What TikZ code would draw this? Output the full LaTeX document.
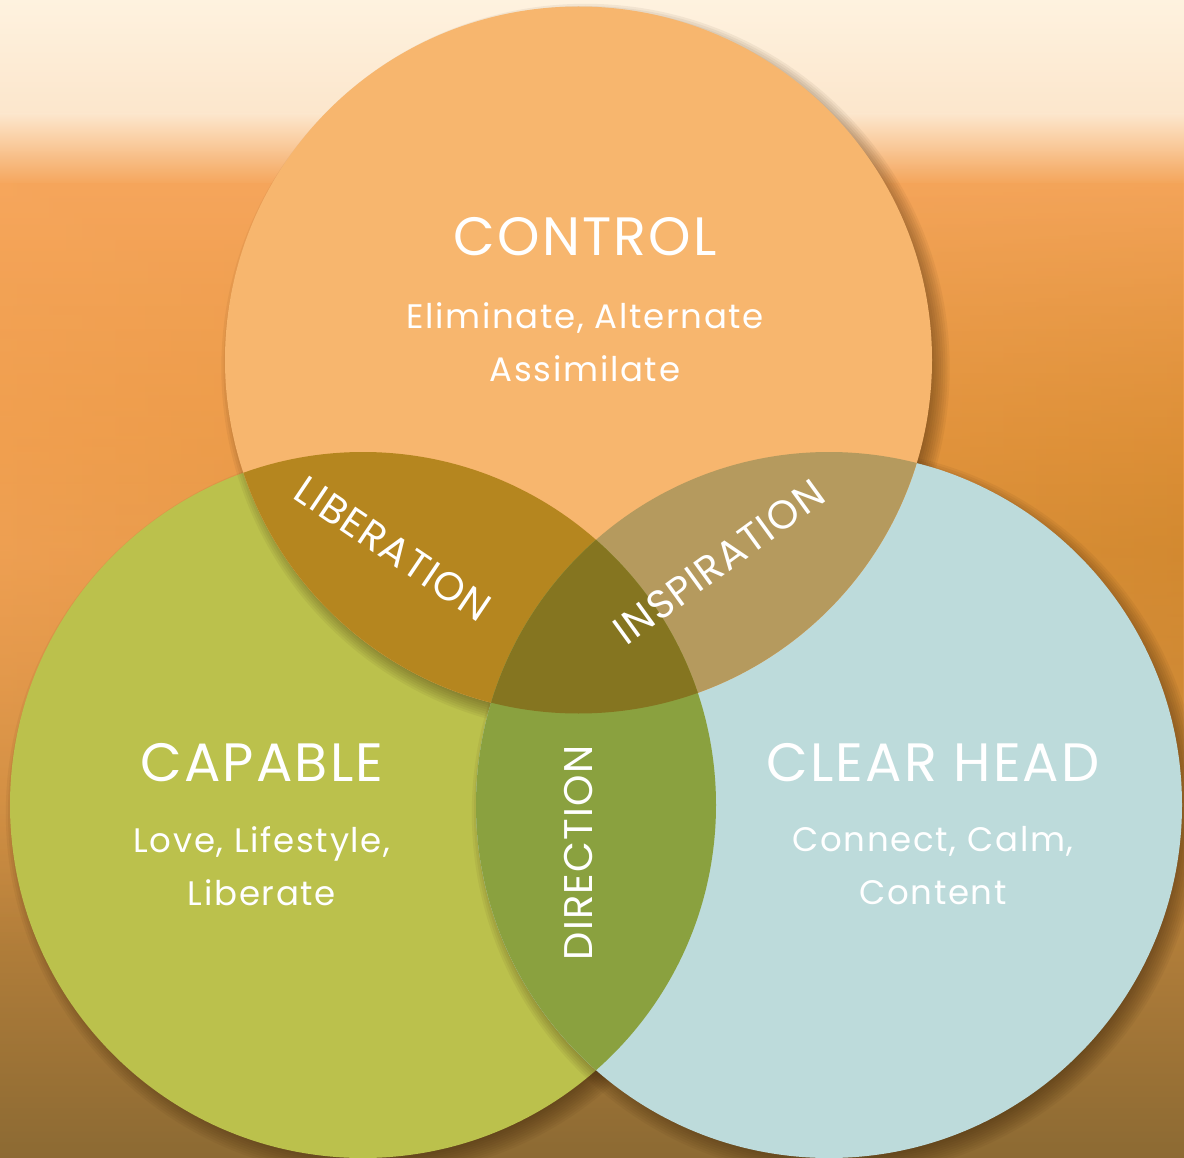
\documentclass[tikz,border=0pt]{standalone}
\usepackage{fontspec}
\setmainfont{Poppins}
\newfontfamily\headfont[LetterSpace=4]{Poppins}
\newfontfamily\subfont[LetterSpace=5]{Poppins}
\newfontfamily\lensfont[LetterSpace=3]{Poppins}
\usetikzlibrary{fadings}
\definecolor{bg0}{HTML}{FEF2DF}
\definecolor{bg1}{HTML}{FCE6CC}
\definecolor{bg2}{HTML}{F6A65C}
\definecolor{bg3}{HTML}{EC9A45}
\definecolor{bg4}{HTML}{C98A3E}
\definecolor{bg5}{HTML}{8C6A33}
\definecolor{bgR}{HTML}{C98224}
\definecolor{shadowc}{HTML}{3A2208}
\definecolor{orangeC}{HTML}{F7B66E}
\definecolor{greenC}{HTML}{BBC14C}
\definecolor{blueC}{HTML}{BDDBDB}
\definecolor{lensTL}{HTML}{B5861F}
\definecolor{lensTR}{HTML}{B59A5E}
\definecolor{lensLR}{HTML}{8AA13F}
\definecolor{lensAll}{HTML}{857520}
\tikzfading[name=midband, top color=transparent!100, bottom color=transparent!100, middle color=transparent!0]
\tikzset{
  heading/.style={text=white, font=\headfont\fontsize{54}{60}\selectfont, inner sep=0pt},
  subtext/.style={text=white, font=\subfont\fontsize{34}{53}\selectfont, align=center, inner sep=0pt},
  lenslabel/.style={text=white, font=\lensfont\fontsize{40}{44}\selectfont, inner sep=0pt},
}
\newcommand{\circshadow}[1]{%
  \foreach \k in {0,...,11}{\fill[shadowc, opacity=0.06] ([shift={(7,8)}]#1) circle[radius={(340+\k*2.2)*1pt}];}%
}
\begin{document}
\begin{tikzpicture}[x=1pt,y=-1pt]
\useasboundingbox (0,0) rectangle (1184,1158);
% background
\fill[bg0] (0,0) rectangle (1184,90);
\shade[top color=bg0, bottom color=bg1] (0,0) rectangle (1184,115);
\shade[top color=bg1, bottom color=bg2] (0,114) rectangle (1184,185);
\shade[top color=bg2, bottom color=bg3] (0,184) rectangle (1184,450);
\shade[top color=bg3, bottom color=bg4] (0,449) rectangle (1184,800);
\shade[top color=bg4, bottom color=bg5] (0,799) rectangle (1184,1158);
\shade[left color=bg2, right color=bgR, path fading=midband, opacity=0.6] (0,150) rectangle (1184,950);

\coordinate (cT) at (578.5,360);
\coordinate (cL) at (363,805);
\coordinate (cR) at (829,805);

% left circle
\circshadow{cL}
\fill[greenC] (cL) circle[radius=353pt];
% right circle
\circshadow{cR}
\fill[blueC] (cR) circle[radius=353pt];
% top circle
\begin{scope}[even odd rule]
  \clip (0,0) rectangle (1184,1158) (cR) circle[radius=353pt];
  \circshadow{cT}
\end{scope}
\fill[orangeC] (cT) circle[radius=353.5pt];

% lenses
\begin{scope}
  \clip (cT) circle[radius=353.5pt];
  \fill[lensTL] (cL) circle[radius=353pt];
  \fill[lensTR] (cR) circle[radius=353pt];
\end{scope}
\begin{scope}
  \clip (cL) circle[radius=353pt];
  \fill[lensLR] (cR) circle[radius=353pt];
  \clip (cR) circle[radius=353pt];
  \fill[lensAll] (cT) circle[radius=353.5pt];
\end{scope}

% texts
\node[heading] (control) at (585,237) {CONTROL};
\node[subtext] (controlsub) at (585,342) {Eliminate, Alternate\\Assimilate};
\node[heading] (capable) at (262,763) {CAPABLE};
\node[subtext] (capablesub) at (262,866) {Love, Lifestyle,\\Liberate};
\node[heading] (clearhead) at (933,763) {CLEAR HEAD};
\node[subtext] (clearsub) at (933,866) {Connect, Calm,\\Content};
\node[lenslabel, rotate=-34] (liberation) at (393,549) {LIBERATION};
\node[lenslabel, rotate=36] (inspiration) at (719,562) {INSPIRATION};
\node[lenslabel, rotate=90] (direction) at (579,853) {DIRECTION};
\end{tikzpicture}
\end{document}
